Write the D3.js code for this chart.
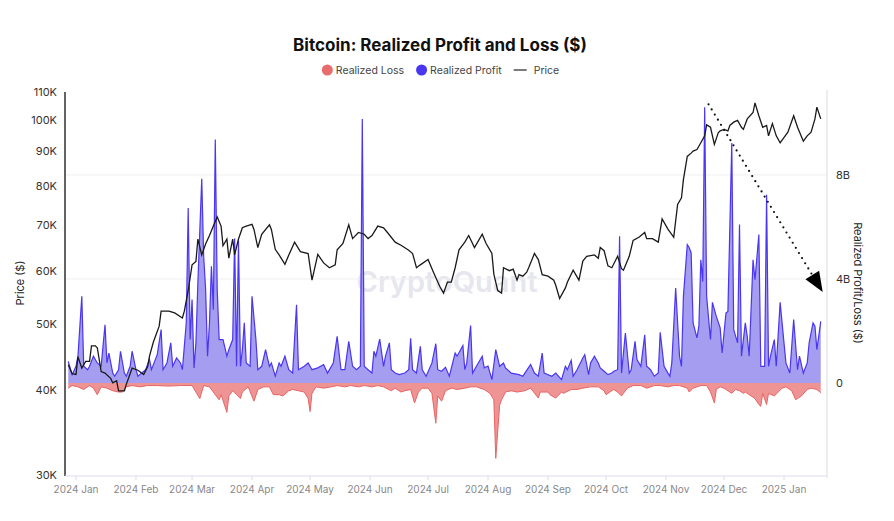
<!DOCTYPE html>
<html><head><meta charset="utf-8">
<script src="https://cdn.jsdelivr.net/npm/d3@7"></script>
<style>body{margin:0;background:#fff;} svg{display:block;font-family:Inter,"Liberation Sans",Arial,sans-serif;}</style>
</head><body><svg id="c" width="894" height="521"></svg>
<script>
const chartTitle = "Bitcoin: Realized Profit and Loss ($)";
const seriesNames = ["Realized Loss", "Realized Profit", "Price"];
const priceTicks = [30000,40000,50000,60000,70000,80000,90000,100000,110000];
const plTicks = [0,4,8];

const priceDates = ["2023-12-28","2023-12-30","2024-01-01","2024-01-02","2024-01-04","2024-01-06","2024-01-08","2024-01-09","2024-01-11","2024-01-12","2024-01-14","2024-01-16","2024-01-19","2024-01-20","2024-01-22","2024-01-23","2024-01-26","2024-01-27","2024-01-30","2024-02-02","2024-02-05","2024-02-07","2024-02-08","2024-02-10","2024-02-13","2024-02-14","2024-02-18","2024-02-21","2024-02-25","2024-02-26","2024-02-28","2024-03-01","2024-03-03","2024-03-04","2024-03-06","2024-03-08","2024-03-10","2024-03-12","2024-03-14","2024-03-16","2024-03-17","2024-03-19","2024-03-20","2024-03-22","2024-03-23","2024-03-25","2024-03-27","2024-03-29","2024-04-01","2024-04-02","2024-04-04","2024-04-06","2024-04-10","2024-04-11","2024-04-13","2024-04-15","2024-04-18","2024-04-20","2024-04-23","2024-04-26","2024-04-30","2024-05-02","2024-05-05","2024-05-08","2024-05-11","2024-05-14","2024-05-15","2024-05-18","2024-05-21","2024-05-23","2024-05-26","2024-05-29","2024-05-31","2024-06-02","2024-06-05","2024-06-08","2024-06-10","2024-06-14","2024-06-17","2024-06-21","2024-06-23","2024-06-25","2024-06-27","2024-07-01","2024-07-04","2024-07-07","2024-07-09","2024-07-11","2024-07-13","2024-07-15","2024-07-17","2024-07-20","2024-07-22","2024-07-25","2024-07-29","2024-07-31","2024-08-03","2024-08-04","2024-08-06","2024-08-08","2024-08-09","2024-08-12","2024-08-14","2024-08-16","2024-08-17","2024-08-19","2024-08-21","2024-08-22","2024-08-25","2024-08-27","2024-08-29","2024-09-01","2024-09-04","2024-09-05","2024-09-07","2024-09-10","2024-09-11","2024-09-14","2024-09-17","2024-09-19","2024-09-21","2024-09-25","2024-09-27","2024-09-28","2024-09-30","2024-10-02","2024-10-04","2024-10-07","2024-10-09","2024-10-10","2024-10-13","2024-10-15","2024-10-18","2024-10-21","2024-10-22","2024-10-25","2024-10-28","2024-10-30","2024-11-02","2024-11-05","2024-11-07","2024-11-09","2024-11-10","2024-11-12","2024-11-14","2024-11-15","2024-11-17","2024-11-19","2024-11-21","2024-11-22","2024-11-24","2024-11-26","2024-11-28","2024-11-29","2024-12-01","2024-12-03","2024-12-04","2024-12-06","2024-12-08","2024-12-10","2024-12-11","2024-12-13","2024-12-16","2024-12-17","2024-12-19","2024-12-21","2024-12-23","2024-12-24","2024-12-26","2024-12-28","2024-12-30","2025-01-03","2025-01-06","2025-01-08","2025-01-11","2025-01-13","2025-01-15","2025-01-17","2025-01-18","2025-01-20"];
const priceValues = [43600,42300,42200,44800,43100,44100,44100,46500,46500,46200,42600,42400,41600,41000,41300,39900,39900,40800,43100,42800,42200,43300,44900,47100,49700,52300,52300,52000,51100,52300,56100,61200,61900,66800,63300,65700,67600,69800,72000,69800,65300,66800,62600,66800,63300,66800,69400,69800,70200,69000,64900,67900,70100,69000,64500,63300,61300,63300,66100,64000,63600,58100,63400,61600,60600,61200,64400,65800,70100,66900,68300,67900,66900,67600,69800,69400,68300,66100,65400,64300,63600,60600,61200,62300,59500,56900,55600,57700,57700,60600,64400,66100,67600,64900,67900,65800,63600,59300,56100,55600,60600,60000,60300,58100,59200,58900,59700,60600,63600,62300,59200,58900,58100,57100,54600,56600,57700,60100,58100,62000,63000,63300,62600,64900,64200,61000,60600,63000,60400,60100,63000,66500,67200,68300,66900,66900,66100,71500,69100,67200,75100,76800,81700,88400,89400,90000,90500,92600,94800,98400,97600,92100,95800,96400,96900,96400,98200,99300,99900,97600,96900,100400,102600,106000,101500,97600,98200,94800,98800,94800,92600,96000,101500,97600,93100,94800,96000,100400,104500,100400];

// Realized profit, billions of USD
const profitDates = ["2023-12-28","2023-12-30","2024-01-01","2024-01-02","2024-01-04","2024-01-05","2024-01-07","2024-01-08","2024-01-10","2024-01-12","2024-01-14","2024-01-16","2024-01-17","2024-01-18","2024-01-20","2024-01-21","2024-01-23","2024-01-24","2024-01-26","2024-01-27","2024-01-29","2024-01-30","2024-02-01","2024-02-02","2024-02-04","2024-02-06","2024-02-08","2024-02-09","2024-02-12","2024-02-14","2024-02-15","2024-02-17","2024-02-19","2024-02-20","2024-02-22","2024-02-24","2024-02-25","2024-02-27","2024-02-28","2024-02-29","2024-03-01","2024-03-02","2024-03-03","2024-03-04","2024-03-06","2024-03-07","2024-03-08","2024-03-09","2024-03-10","2024-03-11","2024-03-12","2024-03-13","2024-03-14","2024-03-15","2024-03-17","2024-03-19","2024-03-20","2024-03-22","2024-03-23","2024-03-24","2024-03-25","2024-03-26","2024-03-27","2024-03-28","2024-03-29","2024-03-31","2024-04-01","2024-04-03","2024-04-04","2024-04-06","2024-04-08","2024-04-10","2024-04-11","2024-04-13","2024-04-15","2024-04-16","2024-04-18","2024-04-20","2024-04-22","2024-04-24","2024-04-25","2024-04-28","2024-04-30","2024-05-02","2024-05-05","2024-05-08","2024-05-10","2024-05-13","2024-05-15","2024-05-17","2024-05-19","2024-05-21","2024-05-23","2024-05-25","2024-05-27","2024-05-28","2024-05-29","2024-05-31","2024-06-02","2024-06-03","2024-06-04","2024-06-06","2024-06-08","2024-06-09","2024-06-11","2024-06-12","2024-06-14","2024-06-16","2024-06-19","2024-06-21","2024-06-22","2024-06-23","2024-06-25","2024-06-27","2024-06-28","2024-06-30","2024-07-03","2024-07-05","2024-07-06","2024-07-08","2024-07-10","2024-07-12","2024-07-15","2024-07-16","2024-07-19","2024-07-20","2024-07-21","2024-07-23","2024-07-24","2024-07-26","2024-07-29","2024-07-30","2024-08-01","2024-08-03","2024-08-05","2024-08-07","2024-08-09","2024-08-10","2024-08-13","2024-08-17","2024-08-19","2024-08-23","2024-08-25","2024-08-27","2024-08-29","2024-08-30","2024-09-03","2024-09-05","2024-09-08","2024-09-10","2024-09-11","2024-09-13","2024-09-14","2024-09-16","2024-09-19","2024-09-20","2024-09-22","2024-09-23","2024-09-25","2024-09-27","2024-09-28","2024-09-30","2024-10-02","2024-10-04","2024-10-05","2024-10-07","2024-10-08","2024-10-09","2024-10-11","2024-10-13","2024-10-14","2024-10-16","2024-10-17","2024-10-19","2024-10-21","2024-10-22","2024-10-24","2024-10-26","2024-10-28","2024-10-29","2024-10-31","2024-11-02","2024-11-03","2024-11-04","2024-11-06","2024-11-08","2024-11-09","2024-11-10","2024-11-12","2024-11-13","2024-11-14","2024-11-15","2024-11-17","2024-11-18","2024-11-19","2024-11-20","2024-11-21","2024-11-22","2024-11-24","2024-11-25","2024-11-27","2024-11-29","2024-11-30","2024-12-02","2024-12-03","2024-12-05","2024-12-06","2024-12-08","2024-12-09","2024-12-10","2024-12-12","2024-12-13","2024-12-14","2024-12-16","2024-12-17","2024-12-19","2024-12-20","2024-12-22","2024-12-23","2024-12-24","2024-12-25","2024-12-27","2024-12-28","2024-12-30","2025-01-01","2025-01-02","2025-01-04","2025-01-06","2025-01-08","2025-01-09","2025-01-11","2025-01-13","2025-01-14","2025-01-16","2025-01-17","2025-01-18","2025-01-20"];
const profitValues = [0.83,0.32,0.64,1.03,3.33,0.64,0.51,0.64,1.03,0.77,0.64,2.24,0.77,1.15,0.38,0.26,0.51,1.22,0.38,0.26,0.64,1.22,0.51,0.26,0.38,0.51,0.90,0.51,1.09,2.05,0.51,0.77,1.54,0.64,0.96,0.77,0.51,2.31,6.73,1.67,3.21,0.58,1.54,3.85,7.85,4.87,3.59,1.03,2.31,4.49,2.82,9.36,3.59,1.67,1.67,1.03,1.28,1.67,5.56,0.64,5.49,0.64,1.28,2.31,0.77,0.64,3.33,1.67,0.51,0.64,1.28,0.64,0.77,0.26,0.77,0.64,1.03,0.51,0.38,3.01,0.51,0.64,0.77,0.51,0.58,0.71,0.38,0.77,1.79,0.51,0.51,1.60,0.64,0.51,0.64,10.15,0.64,0.51,0.38,1.22,1.03,1.69,0.64,1.03,1.54,0.51,0.38,0.32,0.38,0.51,1.72,0.51,0.38,1.41,0.51,0.26,0.77,1.51,0.51,0.45,0.60,0.26,1.15,1.03,1.44,0.51,0.77,2.21,0.38,0.64,1.03,0.58,0.65,0.13,1.28,0.64,0.77,0.58,0.38,0.32,0.26,0.71,0.38,0.26,1.15,0.38,0.26,0.38,0.13,0.64,0.51,0.87,0.26,0.51,0.96,1.09,0.32,0.77,1.03,0.77,0.58,0.45,0.32,0.38,0.45,0.51,5.64,0.38,1.92,0.38,0.51,1.60,0.90,0.64,1.85,0.64,0.51,0.26,0.38,1.95,0.64,0.38,0.26,0.77,3.65,1.03,0.64,3.33,5.32,5.20,5.00,2.31,1.73,2.20,4.74,3.90,10.60,3.33,1.67,3.10,2.56,2.12,1.15,2.69,2.75,9.23,2.05,1.54,6.09,1.03,2.31,1.79,1.03,4.74,3.97,5.71,0.64,0.64,7.24,0.64,1.03,1.67,0.64,3.10,1.54,0.77,0.38,2.44,0.51,1.03,0.38,0.77,1.54,2.31,2.18,1.28,2.37];

// Realized loss, billions of USD (negative)
const lossDates = ["2023-12-28","2023-12-30","2024-01-02","2024-01-05","2024-01-08","2024-01-10","2024-01-12","2024-01-14","2024-01-17","2024-01-20","2024-01-23","2024-01-25","2024-01-27","2024-01-30","2024-02-03","2024-02-07","2024-02-12","2024-02-18","2024-02-24","2024-03-01","2024-03-05","2024-03-07","2024-03-10","2024-03-15","2024-03-16","2024-03-19","2024-03-20","2024-03-22","2024-03-24","2024-03-26","2024-03-27","2024-03-30","2024-04-02","2024-04-04","2024-04-07","2024-04-10","2024-04-12","2024-04-15","2024-04-17","2024-04-20","2024-04-22","2024-04-25","2024-04-28","2024-04-30","2024-05-01","2024-05-02","2024-05-04","2024-05-08","2024-05-12","2024-05-15","2024-05-19","2024-05-22","2024-05-26","2024-05-29","2024-06-02","2024-06-05","2024-06-08","2024-06-12","2024-06-14","2024-06-17","2024-06-19","2024-06-22","2024-06-24","2024-06-26","2024-06-28","2024-07-01","2024-07-03","2024-07-05","2024-07-06","2024-07-08","2024-07-10","2024-07-13","2024-07-16","2024-07-20","2024-07-23","2024-07-26","2024-07-30","2024-08-02","2024-08-04","2024-08-05","2024-08-07","2024-08-08","2024-08-10","2024-08-13","2024-08-16","2024-08-20","2024-08-23","2024-08-27","2024-08-28","2024-09-01","2024-09-02","2024-09-05","2024-09-08","2024-09-09","2024-09-13","2024-09-16","2024-09-19","2024-09-23","2024-09-27","2024-09-30","2024-10-01","2024-10-03","2024-10-05","2024-10-07","2024-10-09","2024-10-10","2024-10-12","2024-10-15","2024-10-19","2024-10-22","2024-10-26","2024-10-29","2024-11-02","2024-11-05","2024-11-08","2024-11-12","2024-11-13","2024-11-15","2024-11-19","2024-11-22","2024-11-24","2024-11-26","2024-11-27","2024-11-29","2024-12-01","2024-12-04","2024-12-05","2024-12-07","2024-12-09","2024-12-11","2024-12-12","2024-12-15","2024-12-17","2024-12-19","2024-12-20","2024-12-21","2024-12-23","2024-12-24","2024-12-27","2024-12-29","2024-12-31","2025-01-02","2025-01-05","2025-01-07","2025-01-08","2025-01-10","2025-01-13","2025-01-15","2025-01-18","2025-01-20"];
const lossValues = [-0.20,-0.10,-0.15,-0.25,-0.10,-0.20,-0.45,-0.15,-0.20,-0.30,-0.35,-0.35,-0.15,-0.10,-0.15,-0.10,-0.10,-0.12,-0.10,-0.10,-0.60,-0.10,-0.15,-0.65,-0.45,-1.13,-0.50,-0.30,-0.45,-0.60,-0.35,-0.15,-0.70,-0.25,-0.15,-0.15,-0.45,-0.45,-0.50,-0.30,-0.25,-0.30,-0.35,-0.60,-1.10,-0.40,-0.15,-0.20,-0.15,-0.10,-0.15,-0.10,-0.15,-0.10,-0.15,-0.10,-0.15,-0.30,-0.20,-0.35,-0.30,-0.25,-0.77,-0.35,-0.20,-0.20,-0.40,-1.55,-0.50,-0.70,-0.30,-0.20,-0.25,-0.20,-0.15,-0.15,-0.25,-0.40,-0.65,-2.90,-0.85,-0.65,-0.35,-0.30,-0.35,-0.30,-0.20,-0.58,-0.35,-0.35,-0.45,-0.58,-0.35,-0.40,-0.25,-0.25,-0.20,-0.15,-0.15,-0.30,-0.45,-0.35,-0.25,-0.35,-0.50,-0.40,-0.20,-0.10,-0.10,-0.20,-0.10,-0.10,-0.15,-0.10,-0.10,-0.20,-0.35,-0.20,-0.10,-0.10,-0.35,-0.77,-0.25,-0.15,-0.20,-0.35,-0.40,-0.25,-0.30,-0.40,-0.35,-0.50,-0.60,-0.83,-0.90,-0.40,-0.83,-0.40,-0.50,-0.35,-0.20,-0.15,-0.30,-0.64,-0.60,-0.50,-0.25,-0.20,-0.25,-0.38];

// Annotation arrow (date, price)
const arrowFrom = ["2024-11-23", 105500];
const arrowTo = ["2025-01-21", 55800];

const parse = d3.utcParse("%Y-%m-%d");
const price = priceDates.map((d,i)=>({date:parse(d), v:priceValues[i]}));
const profit = profitDates.map((d,i)=>({date:parse(d), v:profitValues[i]}));
const loss = lossDates.map((d,i)=>({date:parse(d), v:lossValues[i]}));

const svg = d3.select("#c");
const L = 65, R = 827, T = 92, B = 475;
const x = d3.scaleUtc().domain([parse("2024-01-01"), parse("2025-01-01")]).range([76, 784]);
const yP = d3.scaleLog().domain([30000, 110000]).range([B, T]);
const yB = d3.scaleLinear().domain([-3.54, 11.19]).range([B, T]);

// watermark
svg.append("text").attr("x", 447).attr("y", 292).attr("text-anchor","middle")
  .attr("font-size", 29).attr("font-weight", 600).attr("fill", "#e6e6ee").text("CryptoQuant");

// grid
svg.append("g").selectAll("line").data(plTicks.filter(t=>t>0)).join("line")
  .attr("x1", L).attr("x2", R).attr("y1", d=>yB(d)).attr("y2", d=>yB(d))
  .attr("stroke", "#efefef").attr("stroke-width", 1);

// loss area
svg.append("path").datum(loss)
  .attr("d", d3.area().x(d=>x(d.date)).y0(yB(0)).y1(d=>yB(d.v)))
  .attr("fill", "#ee9494");
svg.append("path").datum(loss)
  .attr("d", d3.line().x(d=>x(d.date)).y(d=>yB(d.v)))
  .attr("fill", "none").attr("stroke", "#e86464").attr("stroke-width", 1);

// profit area
svg.append("path").datum(profit)
  .attr("d", d3.area().x(d=>x(d.date)).y0(yB(0)).y1(d=>yB(d.v)))
  .attr("fill", "#a49df0");
svg.append("path").datum(profit)
  .attr("d", d3.line().x(d=>x(d.date)).y(d=>yB(d.v)))
  .attr("fill", "none").attr("stroke", "#4a36f0").attr("stroke-width", 1.2);

// price
svg.append("path").datum(price)
  .attr("d", d3.line().x(d=>x(d.date)).y(d=>yP(d.v)))
  .attr("fill", "none").attr("stroke", "#1a1a1a").attr("stroke-width", 1.3);

// axes lines
svg.append("line").attr("x1", L).attr("x2", L).attr("y1", T).attr("y2", B+1)
  .attr("stroke", "#222").attr("stroke-width", 1.4);
svg.append("line").attr("x1", R).attr("x2", R).attr("y1", 90).attr("y2", B+3)
  .attr("stroke", "#dcdcdc").attr("stroke-width", 1);
svg.append("line").attr("x1", L).attr("x2", R).attr("y1", B+1).attr("y2", B+1)
  .attr("stroke", "#dcdcf0").attr("stroke-width", 1);

// left ticks
svg.append("g").selectAll("text").data(priceTicks).join("text")
  .attr("x", 57).attr("y", d=>yP(d)+4).attr("text-anchor","end")
  .attr("font-size", 11).attr("fill", "#333").text(d=>`${d/1000}K`);
// right ticks
svg.append("g").selectAll("text").data(plTicks).join("text")
  .attr("x", 836).attr("y", d=>yB(d)+4).attr("text-anchor","start")
  .attr("font-size", 11).attr("fill", "#333").text(d=>d===0?"0":`${d}B`);

// x ticks
const months = d3.utcMonth.range(parse("2024-01-01"), parse("2025-01-02"));
const fmt = d3.utcFormat("%Y %b");
svg.append("g").selectAll("line").data(months).join("line")
  .attr("x1", d=>x(d)).attr("x2", d=>x(d)).attr("y1", B+1).attr("y2", B+5)
  .attr("stroke", "#dcdcf0");
svg.append("g").selectAll("text").data(months).join("text")
  .attr("x", d=>x(d)).attr("y", 493).attr("text-anchor","middle")
  .attr("font-size", 10).attr("fill", "#888").text(d=>fmt(d));

// axis titles
svg.append("text").attr("transform","translate(24,283) rotate(-90)").attr("text-anchor","middle")
  .attr("font-size", 11).attr("fill","#222").text("Price ($)");
svg.append("text").attr("transform","translate(854,283) rotate(90)").attr("text-anchor","middle")
  .attr("font-size", 11).attr("fill","#222").text("Realized Profit/Loss ($)");

// title
svg.append("text").attr("x", 440).attr("y", 51).attr("text-anchor","middle")
  .attr("font-size", 17).attr("font-weight", 700).attr("fill","#111").text(chartTitle);

// legend
const lg = svg.append("g");
const colors = ["#e86c6c", "#4a36f0", "#222"];
let cx = 0;
seriesNames.forEach((n,i)=>{
  const g = lg.append("g").attr("transform", `translate(${cx},0)`);
  if (i < 2) g.append("circle").attr("cx", 5.5).attr("cy", 70).attr("r", 5.5).attr("fill", colors[i]);
  else g.append("line").attr("x1", 0).attr("x2", 13).attr("y1", 70).attr("y2", 70).attr("stroke", colors[i]).attr("stroke-width", 1.2);
  const off = i<2?14:20;
  const t = g.append("text").attr("x", off).attr("y", 74).attr("font-size", 10.5).attr("fill","#444").text(n);
  cx += off + t.node().getComputedTextLength() + 12;
});
const totalW = cx - 12;
lg.attr("transform", `translate(${440.5 - totalW/2},0)`);

// annotation arrow
const ax1 = x(parse(arrowFrom[0])), ay1 = yP(arrowFrom[1]);
const ax2 = x(parse(arrowTo[0])), ay2 = yP(arrowTo[1]);
const dx = ax2-ax1, dy = ay2-ay1, len = Math.hypot(dx,dy), ux = dx/len, uy = dy/len;
const hl = 20, hw = 8;
const bx = ax2 - ux*hl, by = ay2 - uy*hl;
svg.append("line").attr("x1", ax1).attr("y1", ay1).attr("x2", bx).attr("y2", by)
  .attr("stroke", "#111").attr("stroke-width", 2.2).attr("stroke-linecap","round").attr("stroke-dasharray","0,6");
svg.append("path").attr("d", `M${ax2},${ay2}L${bx - uy*hw},${by + ux*hw}L${bx + uy*hw},${by - ux*hw}Z`).attr("fill","#000");
</script></body></html>
